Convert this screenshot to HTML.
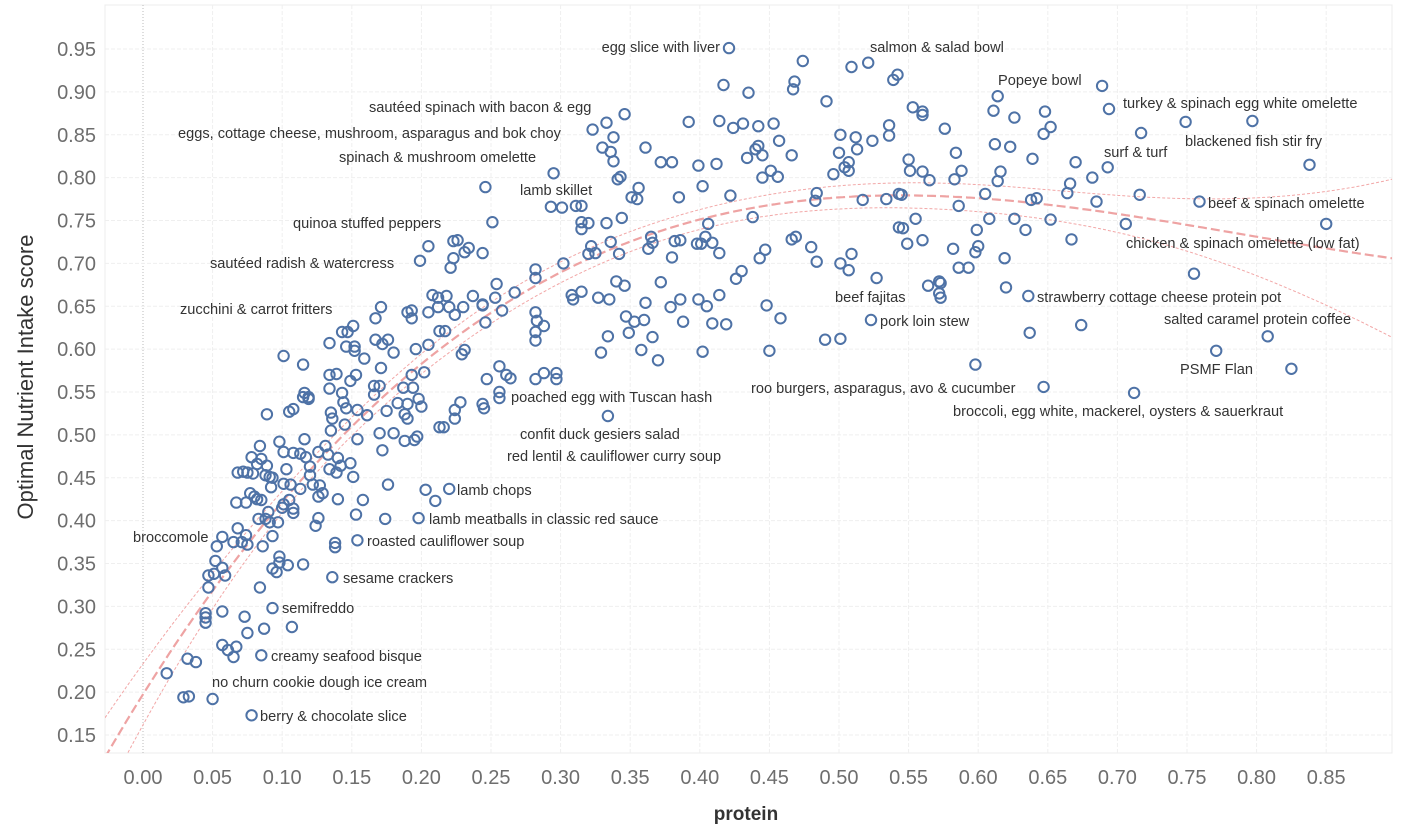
<!DOCTYPE html>
<html><head><meta charset="utf-8">
<style>
html,body{margin:0;padding:0;background:#fff;}
svg{display:block;font-family:"Liberation Sans","DejaVu Sans",sans-serif;}
</style></head>
<body>
<svg id="chart" width="1401" height="833" viewBox="0 0 1401 833" xmlns="http://www.w3.org/2000/svg">
<g id="grid"></g>
<g id="trend"></g>
<g id="points"></g>
<g id="labels" font-size="14.6" fill="#333"></g>
<g id="axes"></g>
<text transform="translate(33,377) rotate(-90)" text-anchor="middle" font-size="22" fill="#333">Optimal Nutrient Intake score</text>
<text x="746" y="820" text-anchor="middle" font-size="19" font-weight="bold" fill="#333">protein</text>
</svg>
<script>
const xTicks=[0,0.05,0.10,0.15,0.20,0.25,0.30,0.35,0.40,0.45,0.50,0.55,0.60,0.65,0.70,0.75,0.80,0.85];
const yTicks=[0.15,0.20,0.25,0.30,0.35,0.40,0.45,0.50,0.55,0.60,0.65,0.70,0.75,0.80,0.85,0.90,0.95];
const protein=[0.171,0.167,0.190,0.193,0.193,0.205,0.212,0.220,0.224,0.230,0.244,0.246,0.134,0.143,0.147,0.151,0.146,0.152,0.152,0.159,0.167,0.172,0.176,0.180,0.196,0.205,0.213,0.217,0.229,0.231,0.247,0.244,0.245,0.101,0.115,0.089,0.105,0.108,0.116,0.115,0.119,0.119,0.134,0.139,0.134,0.143,0.144,0.146,0.149,0.153,0.154,0.161,0.171,0.166,0.170,0.166,0.175,0.135,0.136,0.135,0.145,0.154,0.170,0.180,0.172,0.188,0.195,0.197,0.187,0.194,0.193,0.202,0.183,0.190,0.198,0.200,0.188,0.190,0.224,0.228,0.224,0.213,0.216,0.084,0.098,0.101,0.108,0.113,0.117,0.116,0.120,0.120,0.126,0.131,0.133,0.140,0.142,0.149,0.151,0.134,0.139,0.078,0.085,0.082,0.089,0.068,0.072,0.075,0.079,0.088,0.091,0.093,0.103,0.092,0.101,0.106,0.113,0.122,0.127,0.129,0.126,0.140,0.158,0.176,0.203,0.210,0.220,0.198,0.174,0.153,0.126,0.124,0.067,0.074,0.077,0.080,0.082,0.085,0.090,0.088,0.091,0.097,0.083,0.100,0.101,0.105,0.108,0.108,0.093,0.086,0.068,0.074,0.075,0.071,0.065,0.057,0.053,0.138,0.138,0.154,0.052,0.057,0.051,0.059,0.047,0.047,0.098,0.098,0.104,0.093,0.096,0.115,0.084,0.136,0.045,0.045,0.045,0.057,0.073,0.075,0.087,0.107,0.093,0.057,0.061,0.067,0.065,0.085,0.032,0.038,0.017,0.029,0.033,0.050,0.078,
0.421,0.474,0.509,0.521,0.539,0.542,0.417,0.435,0.468,0.467,0.491,0.346,0.333,0.323,0.338,0.330,0.336,0.338,0.361,0.392,0.414,0.424,0.431,0.442,0.453,0.457,0.466,0.434,0.440,0.442,0.445,0.445,0.451,0.456,0.501,0.512,0.524,0.536,0.536,0.500,0.513,0.496,0.504,0.507,0.507,0.372,0.380,0.399,0.412,0.402,0.422,0.385,0.341,0.343,0.356,0.351,0.355,0.295,0.246,0.293,0.301,0.311,0.315,0.315,0.320,0.315,0.333,0.344,0.251,0.484,0.483,0.517,0.534,0.543,0.438,0.406,0.543,0.205,0.199,0.223,0.226,0.234,0.231,0.223,0.221,0.244,0.322,0.336,0.320,0.325,0.342,0.365,0.366,0.363,0.382,0.386,0.398,0.401,0.404,0.409,0.414,0.380,0.447,0.443,0.466,0.469,0.480,0.484,0.501,0.507,0.509,0.527,0.282,0.282,0.302,0.254,0.253,0.258,0.267,0.237,0.244,0.208,0.218,0.212,0.256,0.261,0.264,0.256,0.256,0.288,0.297,0.297,0.282,0.282,0.283,0.288,0.282,0.282,0.308,0.309,0.315,0.327,0.335,0.340,0.346,0.372,0.361,0.347,0.353,0.360,0.334,0.349,0.366,0.329,0.358,0.370,0.379,0.386,0.388,0.399,0.405,0.414,0.409,0.419,0.402,0.430,0.426,0.448,0.458,0.450,0.490,0.501,0.523,0.334,
0.689,0.694,0.749,0.797,0.717,0.838,0.614,0.611,0.626,0.648,0.652,0.647,0.612,0.623,0.639,0.670,0.693,0.682,0.666,0.664,0.616,0.614,0.605,0.638,0.642,0.716,0.685,0.759,0.850,0.706,0.667,0.652,0.626,0.634,0.608,0.599,0.600,0.598,0.619,0.620,0.636,0.637,0.674,0.755,0.808,0.771,0.825,0.598,0.647,0.712,0.553,0.560,0.560,0.576,0.584,0.550,0.551,0.560,0.565,0.583,0.588,0.545,0.586,0.555,0.546,0.549,0.560,0.582,0.586,0.593,0.564,0.572,0.573,0.572,0.573];
const score=[0.649,0.636,0.643,0.645,0.636,0.643,0.649,0.649,0.640,0.649,0.652,0.631,0.607,0.620,0.620,0.627,0.603,0.603,0.598,0.589,0.611,0.606,0.611,0.596,0.600,0.605,0.621,0.621,0.594,0.599,0.565,0.536,0.531,0.592,0.582,0.524,0.527,0.530,0.549,0.544,0.544,0.542,0.570,0.571,0.554,0.549,0.538,0.531,0.563,0.570,0.529,0.523,0.578,0.557,0.557,0.547,0.528,0.526,0.519,0.505,0.512,0.495,0.502,0.502,0.482,0.493,0.494,0.498,0.555,0.555,0.570,0.573,0.537,0.536,0.542,0.533,0.524,0.519,0.529,0.538,0.519,0.509,0.509,0.487,0.492,0.480,0.479,0.478,0.474,0.495,0.463,0.453,0.480,0.487,0.477,0.473,0.464,0.467,0.451,0.460,0.456,0.474,0.472,0.466,0.464,0.456,0.457,0.456,0.455,0.453,0.451,0.450,0.460,0.439,0.443,0.442,0.437,0.442,0.441,0.432,0.428,0.425,0.424,0.442,0.436,0.423,0.437,0.403,0.402,0.407,0.403,0.394,0.421,0.421,0.432,0.428,0.425,0.424,0.410,0.402,0.398,0.398,0.402,0.415,0.419,0.424,0.414,0.409,0.382,0.370,0.391,0.383,0.372,0.375,0.375,0.381,0.370,0.374,0.369,0.377,0.353,0.345,0.338,0.336,0.336,0.322,0.358,0.351,0.348,0.344,0.340,0.349,0.322,0.334,0.292,0.287,0.281,0.294,0.288,0.269,0.274,0.276,0.298,0.255,0.249,0.253,0.241,0.243,0.239,0.235,0.222,0.194,0.195,0.192,0.173,
0.951,0.936,0.929,0.934,0.914,0.920,0.908,0.899,0.912,0.903,0.889,0.874,0.864,0.856,0.847,0.835,0.830,0.819,0.835,0.865,0.866,0.858,0.863,0.860,0.863,0.843,0.826,0.823,0.833,0.837,0.826,0.800,0.808,0.801,0.850,0.847,0.843,0.861,0.849,0.829,0.833,0.804,0.812,0.818,0.808,0.818,0.818,0.814,0.816,0.790,0.779,0.777,0.798,0.801,0.788,0.777,0.775,0.805,0.789,0.766,0.765,0.767,0.767,0.748,0.747,0.740,0.747,0.753,0.748,0.782,0.773,0.774,0.775,0.781,0.754,0.746,0.742,0.720,0.703,0.726,0.727,0.718,0.713,0.706,0.695,0.712,0.720,0.725,0.711,0.712,0.711,0.731,0.724,0.717,0.726,0.727,0.723,0.723,0.731,0.724,0.712,0.707,0.716,0.706,0.728,0.731,0.719,0.702,0.700,0.692,0.711,0.683,0.693,0.683,0.700,0.676,0.660,0.645,0.666,0.662,0.651,0.663,0.662,0.660,0.580,0.570,0.566,0.550,0.543,0.572,0.572,0.565,0.565,0.643,0.633,0.627,0.620,0.610,0.663,0.658,0.667,0.660,0.658,0.679,0.674,0.678,0.654,0.638,0.632,0.634,0.615,0.619,0.614,0.596,0.599,0.587,0.649,0.658,0.632,0.658,0.650,0.663,0.630,0.629,0.597,0.691,0.682,0.651,0.636,0.598,0.611,0.612,0.634,0.522,
0.907,0.880,0.865,0.866,0.852,0.815,0.895,0.878,0.870,0.877,0.859,0.851,0.839,0.836,0.822,0.818,0.812,0.800,0.793,0.782,0.807,0.796,0.781,0.774,0.776,0.780,0.772,0.772,0.746,0.746,0.728,0.751,0.752,0.739,0.752,0.739,0.720,0.713,0.706,0.672,0.662,0.619,0.628,0.688,0.615,0.598,0.577,0.582,0.556,0.549,0.882,0.877,0.873,0.857,0.829,0.821,0.808,0.807,0.797,0.798,0.808,0.780,0.767,0.752,0.741,0.723,0.727,0.717,0.695,0.695,0.674,0.679,0.677,0.665,0.660];
const labelText=["egg slice with liver","salmon & salad bowl","Popeye bowl","turkey & spinach egg white omelette","blackened fish stir fry","surf & turf","beef & spinach omelette","chicken & spinach omelette (low fat)","strawberry cottage cheese protein pot","salted caramel protein coffee","PSMF Flan","broccoli, egg white, mackerel, oysters & sauerkraut","roo burgers, asparagus, avo & cucumber","beef fajitas","pork loin stew","sautéed spinach with bacon & egg","eggs, cottage cheese, mushroom, asparagus and bok choy","spinach & mushroom omelette","lamb skillet","quinoa stuffed peppers","sautéed radish & watercress","zucchini & carrot fritters","poached egg with Tuscan hash","confit duck gesiers salad","red lentil & cauliflower curry soup","lamb chops","lamb meatballs in classic red sauce","roasted cauliflower soup","sesame crackers","semifreddo","creamy seafood bisque","no churn cookie dough ice cream","berry & chocolate slice","broccomole"];
const labelPos=[[720,47,"end"],[870,47,"start"],[998,80,"start"],[1123,103,"start"],[1185,141,"start"],[1104,152,"start"],[1208,203,"start"],[1126,243,"start"],[1037,297,"start"],[1164,319,"start"],[1180,369,"start"],[953,411,"start"],[751,388,"start"],[835,297,"start"],[880,321,"start"],[369,107,"start"],[178,133,"start"],[339,157,"start"],[520,190,"start"],[293,223,"start"],[210,263,"start"],[180,309,"start"],[511,397,"start"],[520,434,"start"],[507,456,"start"],[457,490,"start"],[429,519,"start"],[367,541,"start"],[343,578,"start"],[282,608,"start"],[271,656,"start"],[212,682,"start"],[260,716,"start"],[133,537,"start"]];

const NS="http://www.w3.org/2000/svg";
const L=105,R=1392,T=5,B=753;
const X=v=>143+v*1392;
const Y=v=>49+(0.95-v)*857.5;
const xMin=(L-143)/1392, xMax=(R-143)/1392;
function mk(tag,attrs,parent){const e=document.createElementNS(NS,tag);for(const k in attrs)e.setAttribute(k,attrs[k]);parent.appendChild(e);return e;}
const grid=document.getElementById('grid'),axes=document.getElementById('axes');
mk('rect',{x:L,y:T,width:R-L,height:B-T,fill:'none',stroke:'#ececec','stroke-width':1},grid);
xTicks.forEach(t=>{
  const g=mk('line',{x1:X(t),x2:X(t),y1:T,y2:B,stroke:t===0?'#bbb':'#efefef','stroke-width':1,'stroke-dasharray':t===0?'1,2':'4,2'},grid);
  
  
  const tx=mk('text',{x:X(t),y:784,'text-anchor':'middle','font-size':20,fill:'#6e6e6e'},axes);
  tx.textContent=t.toFixed(2);
  
  
});
yTicks.forEach(t=>{
  const g=mk('line',{x1:L,x2:R,y1:Y(t),y2:Y(t),stroke:'#efefef','stroke-width':1,'stroke-dasharray':'4,2'},grid);
  
  
  const tx=mk('text',{x:96,y:Y(t)+7,'text-anchor':'end','font-size':20,fill:'#6e6e6e'},axes);
  tx.textContent=t.toFixed(2);
  
  
});
const n=Math.min(protein.length,score.length),D=4;
const A=[...Array(D)].map(()=>Array(D).fill(0)),bv=Array(D).fill(0);
for(let i=0;i<n;i++){const p=[1,protein[i],protein[i]**2,protein[i]**3];for(let a=0;a<D;a++){bv[a]+=p[a]*score[i];for(let c=0;c<D;c++)A[a][c]+=p[a]*p[c];}}
const M=A.map((r,i)=>r.concat([...Array(D)].map((_,j)=>i===j?1:0)));
for(let c=0;c<D;c++){let piv=c;for(let r=c+1;r<D;r++)if(Math.abs(M[r][c])>Math.abs(M[piv][c]))piv=r;[M[c],M[piv]]=[M[piv],M[c]];const d=M[c][c];for(let k=0;k<2*D;k++)M[c][k]/=d;for(let r=0;r<D;r++)if(r!==c){const f=M[r][c];for(let k=0;k<2*D;k++)M[r][k]-=f*M[c][k];}}
const inv=M.map(r=>r.slice(D));
const coef=inv.map(r=>r.reduce((s,v,j)=>s+v*bv[j],0));
let sse=0;for(let i=0;i<n;i++){const p=[1,protein[i],protein[i]**2,protein[i]**3];const f=p.reduce((s,v,j)=>s+v*coef[j],0);sse+=(score[i]-f)**2;}
const s=Math.sqrt(sse/Math.max(1,n-D));
const mid=[],up=[],lo=[];
for(let k=0;k<=300;k++){const x=xMin+(xMax-xMin)*k/300;const p=[1,x,x*x,x*x*x];const f=p.reduce((a,v,j)=>a+v*coef[j],0);let q=0;for(let a=0;a<D;a++)for(let c=0;c<D;c++)q+=p[a]*inv[a][c]*p[c];const h=1.96*s*Math.sqrt(q);
  mid.push([X(x),Y(f)]);up.push([X(x),Y(f+h)]);lo.push([X(x),Y(f-h)]);}
const clip=mk('clipPath',{id:'pc'},document.getElementById('chart'));mk('rect',{x:L,y:T,width:R-L,height:B-T},clip);
const tr=document.getElementById('trend');tr.setAttribute('clip-path','url(#pc)');
const pth=a=>'M'+a.map(p=>p[0].toFixed(1)+','+p[1].toFixed(1)).join('L');
const l1=mk('path',{d:pth(up),fill:'none',stroke:'#f2a7a7','stroke-width':1,'stroke-dasharray':'3,2'},tr);


const l2=mk('path',{d:pth(lo),fill:'none',stroke:'#f2a7a7','stroke-width':1,'stroke-dasharray':'3,2'},tr);


const l3=mk('path',{d:pth(mid),fill:'none',stroke:'#eea3a3','stroke-width':2.2,'stroke-dasharray':'9,4'},tr);


const pts=document.getElementById('points');
for(let i=0;i<n;i++){
  const c=mk('circle',{cx:X(protein[i]).toFixed(1),cy:Y(score[i]).toFixed(1),r:5.2,fill:'none',stroke:'#4e72a6','stroke-width':2},pts);
  
  
}
const lab=document.getElementById('labels');
labelText.forEach((t,i)=>{
  const e=mk('text',{x:labelPos[i][0],y:labelPos[i][1]+5,'text-anchor':labelPos[i][2]},lab);
  e.textContent=t;
  
  
});
</script>
</body></html>
